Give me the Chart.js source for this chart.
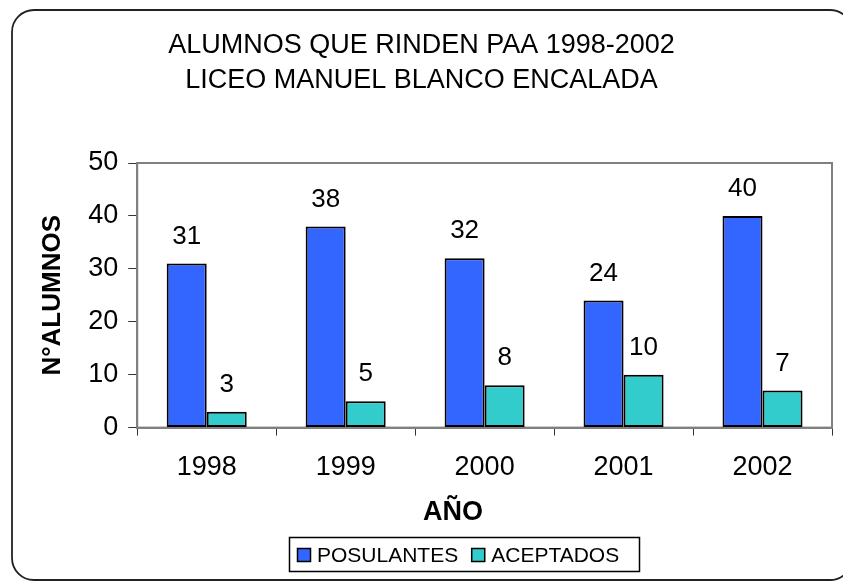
<!DOCTYPE html>
<html>
<head>
<meta charset="utf-8">
<script src="https://cdn.jsdelivr.net/npm/chart.js@4.4.1/dist/chart.umd.min.js"></script>
<style>
  html, body { margin: 0; padding: 0; background: #fff; }
  #wrap { width: 843px; height: 581px; }
</style>
</head>
<body>
<div id="wrap"><canvas id="chart" width="843" height="581"></canvas></div>
<script>
const years = ['1998', '1999', '2000', '2001', '2002'];
const postulantes = [31, 38, 32, 24, 40];
const aceptados = [3, 5, 8, 10, 7];
const yTicks = [0, 10, 20, 30, 40, 50];

const FONT = '"Liberation Sans", Arial, Helvetica, sans-serif';
const BLUE = '#3366FF';
const TEAL = '#33CCCC';

// frame, value labels, x title, boxed legend, rounded outer border
const extras = {
  id: 'extras',
  beforeDraw(chart) {
    const ctx = chart.ctx;
    ctx.save();
    ctx.fillStyle = '#fff';
    ctx.fillRect(0, 0, chart.width, chart.height);
    ctx.restore();
  },
  beforeDatasetsDraw(chart) {
    const {ctx, chartArea: a} = chart;
    ctx.save();
    ctx.strokeStyle = '#808080';
    ctx.lineWidth = 2;
    ctx.strokeRect(a.left, a.top, a.right - a.left, a.bottom - a.top);
    ctx.restore();
  },
  afterDatasetsDraw(chart) {
    const ctx = chart.ctx;
    ctx.save();
    ctx.font = '26px ' + FONT;
    ctx.fillStyle = '#000';
    ctx.textAlign = 'center';
    ctx.textBaseline = 'middle';
    chart.data.datasets.forEach((ds, i) => {
      chart.getDatasetMeta(i).data.forEach((bar, j) => {
        ctx.fillText(String(ds.data[j]), bar.x, bar.y - 27);
      });
    });
    ctx.restore();
  },
  afterDraw(chart) {
    const ctx = chart.ctx;
    ctx.save();
    // x axis title
    ctx.font = 'bold 27px ' + FONT;
    ctx.fillStyle = '#000';
    ctx.textAlign = 'center';
    ctx.textBaseline = 'middle';
    ctx.fillText('AÑO', 453, 513);

    // legend with a box round it
    ctx.lineWidth = 1.5;
    ctx.strokeStyle = '#000';
    ctx.strokeRect(289.5, 537.5, 350, 34);
    ctx.font = '21px ' + FONT;
    ctx.textAlign = 'left';
    let x = 297;
    chart.data.datasets.forEach(ds => {
      ctx.fillStyle = ds.backgroundColor;
      ctx.fillRect(x, 548, 14, 14);
      ctx.strokeRect(x + 0.5, 548.5, 13, 13);
      ctx.fillStyle = '#000';
      ctx.fillText(ds.label, x + 20, 556);
      x += 20 + ctx.measureText(ds.label).width + 13;
    });

    // rounded outer border
    const l = 12, t = 10, r = 852, b = 580, rad = 22;
    ctx.beginPath();
    ctx.moveTo(l + rad, t);
    ctx.arcTo(r, t, r, b, rad);
    ctx.arcTo(r, b, l, b, rad);
    ctx.arcTo(l, b, l, t, rad);
    ctx.arcTo(l, t, r, t, rad);
    ctx.closePath();
    ctx.lineWidth = 1.8;
    ctx.strokeStyle = '#222';
    ctx.stroke();
    ctx.restore();
  }
};

new Chart(document.getElementById('chart').getContext('2d'), {
  type: 'bar',
  data: {
    labels: years,
    datasets: [
      {
        label: 'POSULANTES',
        data: postulantes,
        backgroundColor: BLUE,
        borderColor: '#000',
        borderWidth: 2,
        borderSkipped: false
      },
      {
        label: 'ACEPTADOS',
        data: aceptados,
        backgroundColor: TEAL,
        borderColor: '#000',
        borderWidth: 2,
        borderSkipped: false
      }
    ]
  },
  options: {
    responsive: false,
    animation: false,
    devicePixelRatio: 1,
    layout: { padding: { top: 10, left: 11, right: 11, bottom: 81 } },
    datasets: {
      bar: { barPercentage: 1.0, categoryPercentage: 0.576 }
    },
    plugins: {
      legend: { display: false },
      tooltip: { enabled: false },
      title: {
        display: true,
        text: ['ALUMNOS QUE RINDEN PAA 1998-2002', 'LICEO MANUEL BLANCO ENCALADA'],
        color: '#000',
        font: { family: FONT, size: 27, weight: 'normal', lineHeight: 35 / 27 },
        padding: { top: 18.5, bottom: 64.5 }
      }
    },
    scales: {
      x: {
        grid: { display: true, drawOnChartArea: false, drawTicks: true, tickLength: 8, color: '#333', offset: true },
        border: { color: '#808080', width: 2 },
        ticks: { color: '#000', padding: 16, font: { family: FONT, size: 27 } }
      },
      y: {
        min: yTicks[0],
        max: yTicks[yTicks.length - 1],
        grid: { display: true, drawOnChartArea: false, drawTicks: true, tickLength: 9, color: '#333' },
        border: { color: '#808080', width: 2 },
        ticks: { stepSize: 10, color: '#000', padding: 10, font: { family: FONT, size: 27 } },
        title: {
          display: true,
          text: 'N°ALUMNOS',
          color: '#000',
          font: { family: FONT, size: 26, weight: 'bold', lineHeight: 1.2 },
          padding: { top: 26, bottom: 10 }
        }
      }
    }
  },
  plugins: [extras]
});
</script>
</body>
</html>
